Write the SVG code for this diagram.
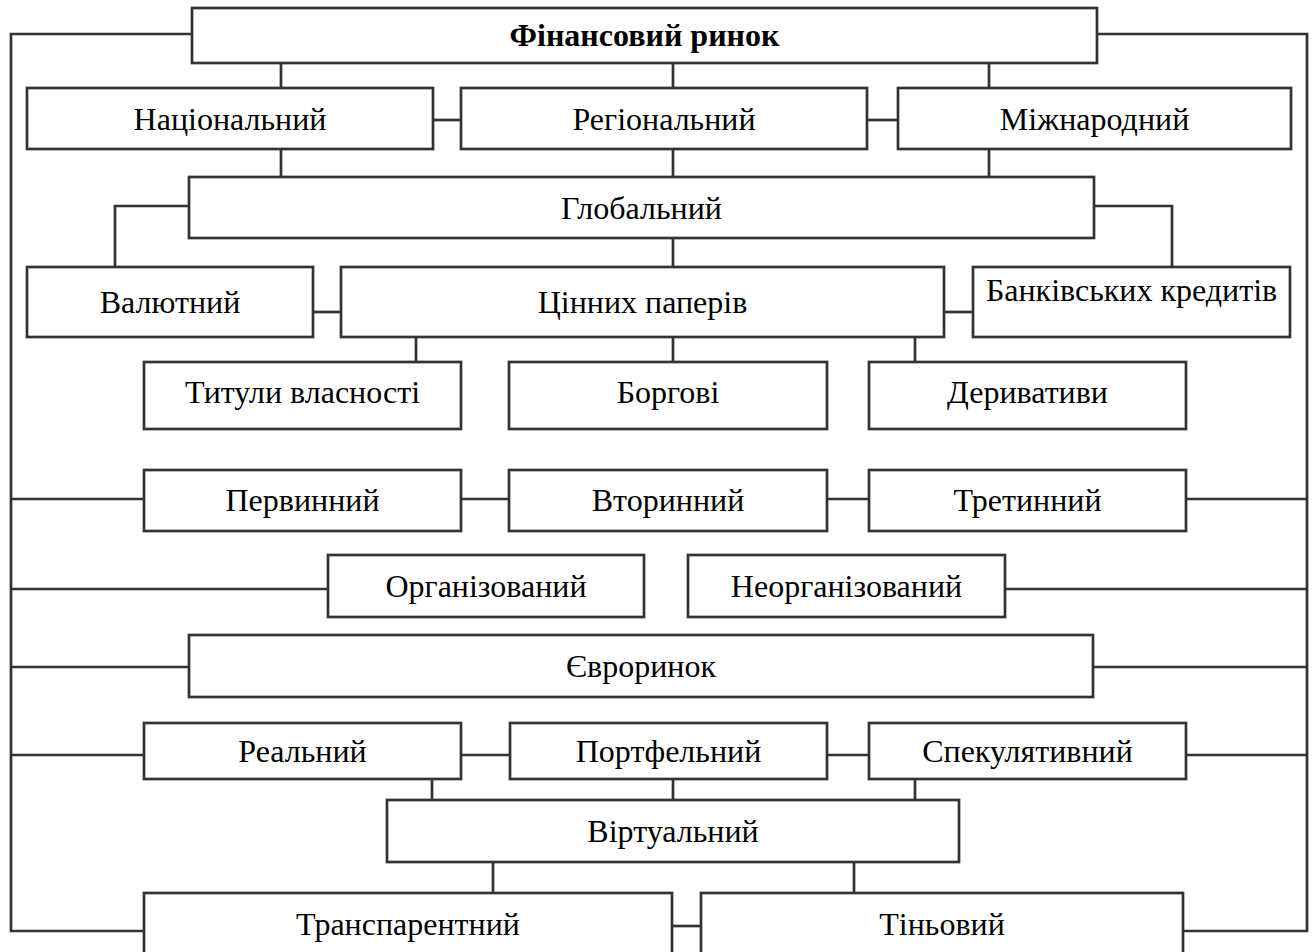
<svg xmlns="http://www.w3.org/2000/svg" width="1312" height="952" viewBox="0 0 1312 952">
<style>
rect{fill:#fff;stroke:#333;stroke-width:2.7}
.c{fill:none;stroke:#333;stroke-width:2.7}
text{font-family:"Liberation Serif","Times New Roman",serif;font-size:32px;fill:#000;text-anchor:middle}
.b{font-weight:bold}
</style>
<rect width="1312" height="952" style="fill:#fff;stroke:none"/>
<g id="connectors" class="c">
<polyline class="c" points="192,34 11,34 11,931 144,931"/>
<polyline class="c" points="1097,34 1307,34 1307,931 1183,931"/>
<line x1="11" y1="499" x2="144" y2="499"/>
<line x1="11" y1="589" x2="328" y2="589"/>
<line x1="11" y1="667" x2="189" y2="667"/>
<line x1="11" y1="755" x2="144" y2="755"/>
<line x1="1186" y1="499" x2="1307" y2="499"/>
<line x1="1005" y1="589" x2="1307" y2="589"/>
<line x1="1093" y1="667" x2="1307" y2="667"/>
<line x1="1186" y1="755" x2="1307" y2="755"/>
<line x1="281" y1="63" x2="281" y2="88"/>
<line x1="673" y1="63" x2="673" y2="88"/>
<line x1="989" y1="63" x2="989" y2="88"/>
<line x1="281" y1="149" x2="281" y2="177"/>
<line x1="673" y1="149" x2="673" y2="177"/>
<line x1="989" y1="149" x2="989" y2="177"/>
<line x1="433" y1="120" x2="461" y2="120"/>
<line x1="867" y1="120" x2="898" y2="120"/>
<polyline class="c" points="189,206 115,206 115,267"/>
<polyline class="c" points="1094,206 1172,206 1172,267"/>
<line x1="673" y1="238" x2="673" y2="267"/>
<line x1="313" y1="312" x2="341" y2="312"/>
<line x1="944" y1="312" x2="973" y2="312"/>
<line x1="416" y1="337" x2="416" y2="362"/>
<line x1="673" y1="337" x2="673" y2="362"/>
<line x1="915" y1="337" x2="915" y2="362"/>
<line x1="461" y1="499" x2="509" y2="499"/>
<line x1="827" y1="499" x2="869" y2="499"/>
<line x1="461" y1="755" x2="510" y2="755"/>
<line x1="827" y1="755" x2="869" y2="755"/>
<line x1="432" y1="779" x2="432" y2="800"/>
<line x1="673" y1="779" x2="673" y2="800"/>
<line x1="915" y1="779" x2="915" y2="800"/>
<line x1="493" y1="862" x2="493" y2="893"/>
<line x1="854" y1="862" x2="854" y2="893"/>
<line x1="672" y1="926" x2="701" y2="926"/>
</g>
<g id="n-fin"><rect x="192" y="8" width="905" height="55"/><text class="b" x="644.5" y="46">Фінансовий ринок</text></g>
<g id="n-nat"><rect x="27" y="88" width="406" height="61"/><text x="230" y="130">Національний</text></g>
<g id="n-reg"><rect x="461" y="88" width="406" height="61"/><text x="664" y="130">Регіональний</text></g>
<g id="n-mizh"><rect x="898" y="88" width="393" height="61"/><text x="1094.5" y="130">Міжнародний</text></g>
<g id="n-glob"><rect x="189" y="177" width="905" height="61"/><text x="641.5" y="219">Глобальний</text></g>
<g id="n-val"><rect x="27" y="267" width="286" height="70"/><text x="170" y="313">Валютний</text></g>
<g id="n-tsin"><rect x="341" y="267" width="603" height="70"/><text x="642.5" y="313">Цінних паперів</text></g>
<g id="n-bank"><rect x="973" y="267" width="317" height="70"/><text x="1131.5" y="301">Банківських кредитів</text></g>
<g id="n-tyt"><rect x="144" y="362" width="317" height="67"/><text x="302.5" y="403">Титули власності</text></g>
<g id="n-borg"><rect x="509" y="362" width="318" height="67"/><text x="668" y="403">Боргові</text></g>
<g id="n-der"><rect x="869" y="362" width="317" height="67"/><text x="1027.5" y="403">Деривативи</text></g>
<g id="n-perv"><rect x="144" y="470" width="317" height="61"/><text x="302.5" y="511">Первинний</text></g>
<g id="n-vtor"><rect x="509" y="470" width="318" height="61"/><text x="668" y="511">Вторинний</text></g>
<g id="n-tret"><rect x="869" y="470" width="317" height="61"/><text x="1027.5" y="511">Третинний</text></g>
<g id="n-org"><rect x="328" y="555" width="316" height="62"/><text x="486" y="597">Організований</text></g>
<g id="n-neorg"><rect x="688" y="555" width="317" height="62"/><text x="846.5" y="597">Неорганізований</text></g>
<g id="n-evro"><rect x="189" y="635" width="904" height="62"/><text x="641" y="677">Євроринок</text></g>
<g id="n-real"><rect x="144" y="723" width="317" height="56"/><text x="302.5" y="762">Реальний</text></g>
<g id="n-port"><rect x="510" y="723" width="317" height="56"/><text x="668.5" y="762">Портфельний</text></g>
<g id="n-spek"><rect x="869" y="723" width="317" height="56"/><text x="1027.5" y="762">Спекулятивний</text></g>
<g id="n-virt"><rect x="387" y="800" width="572" height="62"/><text x="673" y="842">Віртуальний</text></g>
<g id="n-trans"><rect x="144" y="893" width="528" height="80"/><text x="408" y="935">Транспарентний</text></g>
<g id="n-tin"><rect x="701" y="893" width="482" height="80"/><text x="942" y="935">Тіньовий</text></g>
</svg>
